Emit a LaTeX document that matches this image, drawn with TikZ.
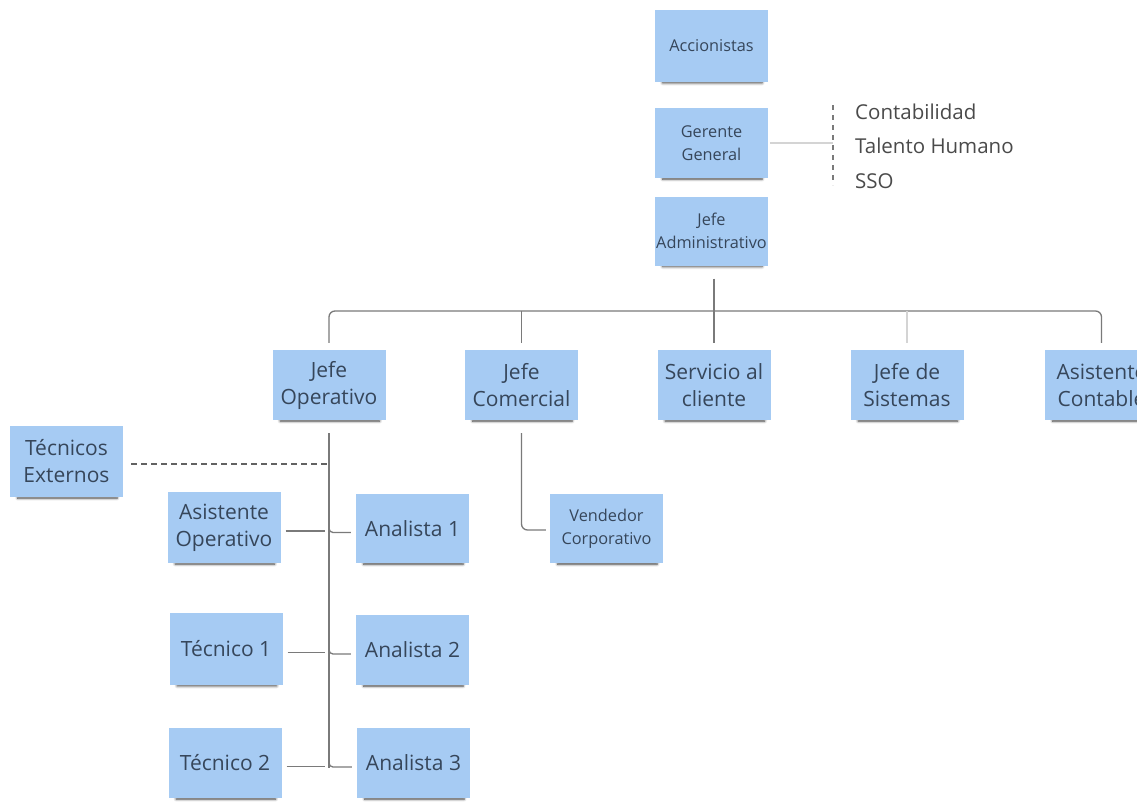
\documentclass[tikz,border=0pt]{standalone}
\usepackage{fontspec}
\setmainfont{Open Sans}
\usetikzlibrary{shadows.blur}
\definecolor{notefill}{HTML}{A6CBF3}
\definecolor{notetext}{HTML}{36465A}
\definecolor{linegray}{HTML}{7A7A7A}
\definecolor{faintgray}{HTML}{D4D4D4}
\definecolor{listtext}{HTML}{4A4A4A}
\tikzset{
  note/.style={fill=notefill, text=notetext, align=center, inner sep=0pt,
    minimum width=113pt, minimum height=70pt,
    blur shadow={shadow xshift=1pt, shadow yshift=-6pt, shadow scale=0.88,
      shadow blur steps=5, shadow blur radius=3pt, shadow opacity=75}},
  bigtext/.style={font=\fontsize{21}{27}\selectfont},
  smalltext/.style={font=\fontsize{16.3}{23}\selectfont},
  conn/.style={draw=linegray, line width=1.3pt},
  faint/.style={draw=faintgray, line width=1.3pt},
  dashconn/.style={draw=linegray!80!black, line width=1.6pt, dash pattern=on 6pt off 4pt},
}
\begin{document}
\begin{tikzpicture}[x=1pt, y=-1pt]
\useasboundingbox (0,0) rectangle (1137,801);
\clip (0,0) rectangle (1137,801);

% top of the hierarchy
\node[note, smalltext, minimum height=72pt] (acc) at (711.5,46) {Accionistas};
\node[note, smalltext] (ger) at (711.5,143) {Gerente\\General};
\node[note, smalltext, minimum height=69pt] (adm) at (711.5,231) {Jefe\\Administrativo};

% staff areas next to the general manager
\coordinate (dtop) at (833,105);
\coordinate (dbot) at (833,185);
\draw[draw=linegray, line width=1.3pt, dash pattern=on 5pt off 5pt] (dtop) -- (dbot);
\draw[faint] ([xshift=2pt]ger.east) -- (ger.east -| dtop);
\node[anchor=west, align=left, text=listtext, inner sep=0pt,
      font=\fontsize{20.5}{34.5}\selectfont] (areas) at (855,146)
      {Contabilidad\\Talento Humano\\SSO};

% second level
\node[note, bigtext] (jop) at (329,385) {Jefe\\Operativo};
\node[note, bigtext] (jco) at (521.5,385) {Jefe\\Comercial};
\node[note, bigtext] (ser) at (714,385) {Servicio al\\cliente};
\node[note, bigtext] (jsi) at (907,385) {Jefe de\\Sistemas};
\node[note, bigtext] (asc) at (1101.5,385) {Asistente\\Contable};

% bus between levels
\coordinate (busy) at (0,311);
\draw[conn] ([yshift=-13pt]adm.south -| ser.north) -- ([yshift=7pt]ser.north);
\draw[conn, rounded corners=6pt] ([yshift=7pt]jop.north) -- (jop.north |- busy)
  -- (asc.north |- busy) -- ([yshift=7pt]asc.north);
\draw[conn] ([yshift=7pt]jco.north) -- (jco.north |- busy);
\draw[faint] ([yshift=7pt]jsi.north) -- (jsi.north |- busy);

% operations team
\node[note, bigtext, minimum height=71pt] (tex) at (66.5,461.5) {Técnicos\\Externos};
\node[note, bigtext, minimum height=71pt] (aso) at (224,527.5) {Asistente\\Operativo};
\node[note, bigtext, minimum height=69pt] (an1) at (412.5,528.5) {Analista 1};
\node[note, bigtext, minimum height=72pt] (tc1) at (226,649) {Técnico 1};
\node[note, bigtext] (an2) at (412.5,650) {Analista 2};
\node[note, bigtext] (tc2) at (225,763) {Técnico 2};
\node[note, bigtext] (an3) at (413.5,763) {Analista 3};

\coordinate (trk) at ([yshift=-13pt]jop.south);
\coordinate (trkend) at (trk |- 0,768);
\draw[conn] (trk) -- (trkend);
\draw[dashconn] ([xshift=8pt,yshift=-2.5pt]tex.east) -- ([yshift=-2.5pt]tex.east -| trk);

\foreach \l/\r in {aso/an1, tc1/an2, tc2/an3}{
  \draw[conn] ([xshift=5pt,yshift=-3.5pt]\l.east) -- ([xshift=-4pt,yshift=-3.5pt]\l.east -| trk);
  \draw[conn, rounded corners=4pt] ([yshift=6pt]\r.west -| trk) |- ([xshift=-5pt,yshift=-4pt]\r.west);
}

% sales
\node[note, smalltext, minimum height=69pt] (ven) at (606.5,528.5) {Vendedor\\Corporativo};
\draw[conn, rounded corners=6pt] ([yshift=-13pt]jco.south) |- ([xshift=-4pt,yshift=-1.5pt]ven.west);
\end{tikzpicture}
\end{document}
